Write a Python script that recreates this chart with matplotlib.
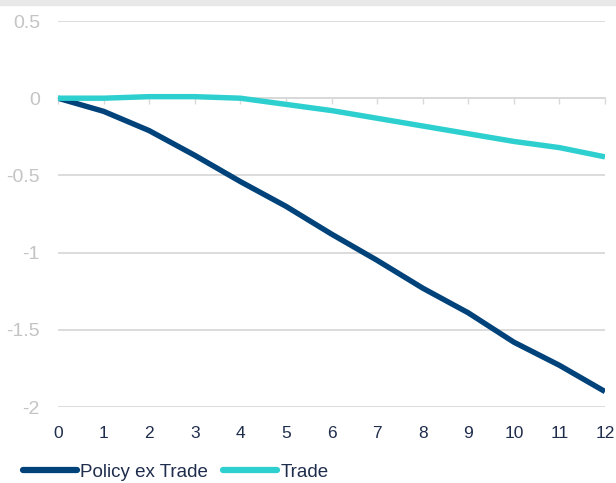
import matplotlib
matplotlib.use("Agg")
import matplotlib.pyplot as plt
from matplotlib.patches import Rectangle

plt.rcParams['font.family'] = ['Liberation Sans', 'DejaVu Sans']

months = [0, 1, 2, 3, 4, 5, 6, 7, 8, 9, 10, 11, 12]
policy_ex_trade = [0.0, -0.085, -0.21, -0.37, -0.54, -0.70, -0.88, -1.05,
                   -1.23, -1.39, -1.58, -1.73, -1.90]
trade = [0.0, 0.0, 0.01, 0.01, 0.0, -0.04, -0.08, -0.13, -0.18, -0.23,
         -0.28, -0.32, -0.38]
y_ticks = [0.5, 0, -0.5, -1, -1.5, -2]
y_labels = ['0.5', '0', '-0.5', '-1', '-1.5', '-2']

navy = '#00427a'
teal = '#2ecfcf'
grid_grey = '#d9d9d9'

fig = plt.figure(figsize=(6.16, 4.83), dpi=100)
fig.patches.append(Rectangle((0, 1 - 5 / 483), 1, 5 / 483, transform=fig.transFigure,
                             color='#e8e8e8', zorder=0))
ax = fig.add_axes([58 / 616, 1 - 407 / 483, (605 - 58) / 616, (407 - 21) / 483])

ax.plot(months, policy_ex_trade, color=navy, lw=3.9, label='Policy ex Trade',
        solid_capstyle='butt', zorder=3)
ax.plot(months, trade, color=teal, lw=3.9, label='Trade',
        solid_capstyle='butt', zorder=3)

ax.set_xlim(0, 12)
ax.set_ylim(-2, 0.5)
ax.set_yticks(y_ticks)
ax.set_yticklabels(y_labels)
ax.set_xticks(months)
ax.grid(axis='y', color=grid_grey, lw=1.3)
ax.set_axisbelow(True)
for s in ax.spines.values():
    s.set_visible(False)
ax.tick_params(axis='y', length=0, pad=13, labelsize=14, labelcolor='#c4c4c4')
ax.tick_params(axis='x', length=0, pad=14, labelsize=12.5, labelcolor='#1f2d4d')

# zero axis with small tick marks pointing down
sec = ax.secondary_xaxis(0.8)
sec.set_alignment('bottom')
sec.set_xticks(months)
sec.tick_params(axis='x', direction='out', length=4, width=1, color=grid_grey,
                labelbottom=False, labeltop=False)
for s in sec.spines.values():
    s.set_color(grid_grey)
    s.set_linewidth(1.3)

leg = fig.legend(loc='center left', bbox_to_anchor=(23 / 616, 1 - 472 / 483), ncol=2,
                 frameon=False, fontsize=13.5, handlelength=2.9, handletextpad=0.15,
                 columnspacing=0.8, borderaxespad=0, borderpad=0)
for t in leg.get_texts():
    t.set_color('#1f2d4d')
for h in leg.get_lines():
    h.set_linewidth(4.5)
    h.set_solid_capstyle('round')

fig.savefig('out.png', dpi=100)
